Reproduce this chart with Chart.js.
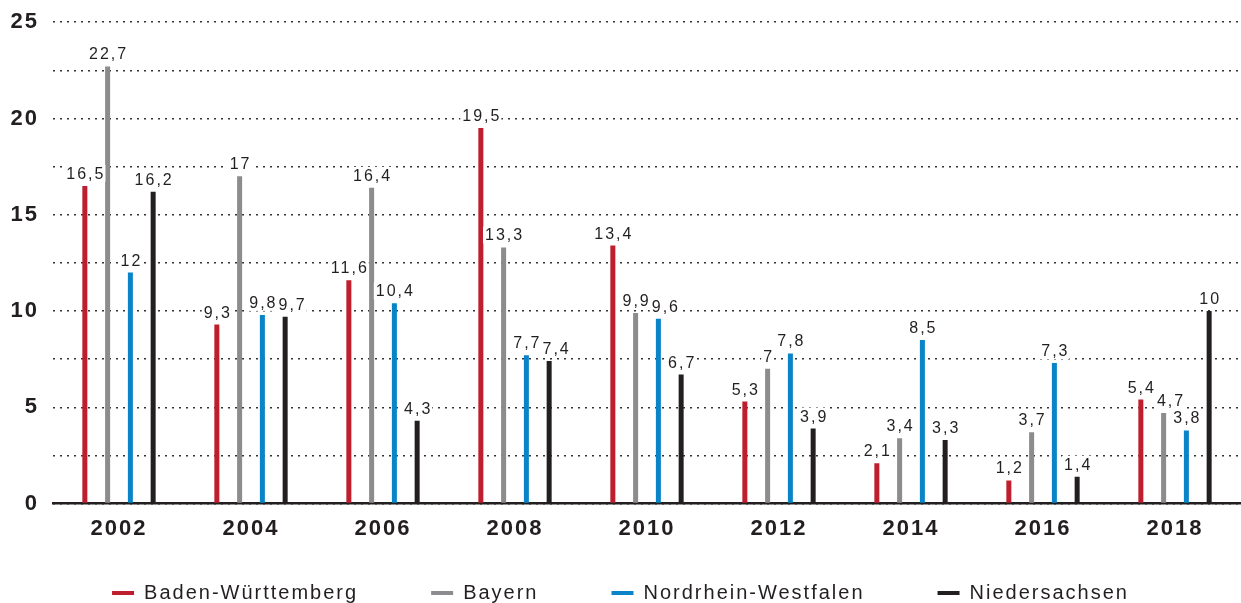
<!DOCTYPE html>
<html><head><meta charset="utf-8">
<script src="https://cdn.jsdelivr.net/npm/chart.js@4"></script>
<style>html,body{margin:0;padding:0;background:#fff}#wrap{width:1241px;height:603px}</style>
</head><body><div id="wrap"><canvas id="c" width="1241" height="603"></canvas></div>
<script>
const years = ['2002','2004','2006','2008','2010','2012','2014','2016','2018'];
const seriesNames = ['Baden-Württemberg','Bayern','Nordrhein-Westfalen','Niedersachsen'];
const badenWuerttemberg = [16.5, 9.3, 11.6, 19.5, 13.4, 5.3, 2.1, 1.2, 5.4];
const bayern = [22.7, 17, 16.4, 13.3, 9.9, 7, 3.4, 3.7, 4.7];
const nordrheinWestfalen = [12, 9.8, 10.4, 7.7, 9.6, 7.8, 8.5, 7.3, 3.8];
const niedersachsen = [16.2, 9.7, 4.3, 7.4, 6.7, 3.9, 3.3, 1.4, 10];
const yTicks = [0, 5, 10, 15, 20, 25];
const colors = ['#be1e2d', '#8c8c8f', '#0a84c8', '#231f20'];

const FONT = "'Liberation Sans', Arial, sans-serif";
const allSeries = [badenWuerttemberg, bayern, nordrheinWestfalen, niedersachsen];

function setSpacing(chart) { try { chart.ctx.letterSpacing = '2px'; } catch (e) {} }

const spacing = {
  id: 'spacing',
  beforeLayout: setSpacing,
  beforeUpdate: setSpacing,
  beforeDraw: setSpacing
};

const valueLabels = {
  id: 'valueLabels',
  afterDatasetsDraw(chart) {
    const ctx = chart.ctx;
    ctx.save();
    ctx.font = '16px ' + FONT;
    try { ctx.letterSpacing = '2px'; } catch (e) {}
    ctx.textAlign = 'left';
    ctx.textBaseline = 'alphabetic';
    const n = chart.data.labels.length;
    for (let i = 0; i < n; i++) {
      const placed = [];
      chart.data.datasets.forEach((ds, di) => {
        const bar = chart.getDatasetMeta(di).data[i];
        const txt = String(ds.data[i]).replace('.', ',');
        const w = ctx.measureText(txt).width - 2;
        const y = bar.y - 7;
        let left = bar.x - w / 2;
        const top = y - 13, bottom = y + 2;
        placed.forEach(p => {
          if (left < p.right + 1 && left + w > p.left && top < p.bottom && bottom > p.top) {
            left = p.right + 3;
          }
        });
        placed.push({ left, right: left + w, top, bottom });
        ctx.fillStyle = '#fff';
        ctx.fillRect(left - 2, top - 1, w + 4, bottom - top + 2);
        ctx.fillStyle = '#231f20';
        ctx.fillText(txt, left, y);
      });
    }
    ctx.restore();
  }
};

const legendFix = {
  id: 'legendFix',
  beforeInit(chart) {
    const lg = chart.legend;
    const orig = lg.fit;
    lg.fit = function () { orig.call(this); this.height = 45; };
  },
  afterLayout(chart) {
    const lg = chart.legend;
    lg.top = 583 - 73;
    lg.bottom = 603;
    lg.height = lg.bottom - lg.top;
  }
};

new Chart(document.getElementById('c'), {
  type: 'bar',
  data: {
    labels: years,
    datasets: allSeries.map((d, i) => ({
      label: seriesNames[i],
      data: d,
      backgroundColor: colors[i],
      borderWidth: 0,
      categoryPercentage: 0.69,
      barPercentage: 0.22
    }))
  },
  options: {
    responsive: false,
    animation: false,
    devicePixelRatio: 1,
    layout: { padding: { top: 0, left: 0, right: 0, bottom: 4 } },
    plugins: {
      tooltip: { enabled: false },
      legend: {
        position: 'bottom',
        labels: {
          boxWidth: 22, boxHeight: 4, padding: 73,
          color: '#231f20',
          font: { family: FONT, size: 20 },
          generateLabels(chart) {
            return chart.data.datasets.map((ds, i) => ({
              text: ds.label, fillStyle: colors[i], strokeStyle: colors[i],
              lineWidth: 0, hidden: false, datasetIndex: i, fontColor: '#231f20'
            }));
          }
        }
      }
    },
    scales: {
      x: {
        grid: { display: false, drawTicks: false },
        border: { display: true, color: '#231f20', width: 2.5 },
        ticks: { color: '#231f20', font: { family: FONT, size: 22, weight: 'bold' }, padding: 12 }
      },
      y: {
        min: 0, max: 25,
        afterFit(s) { s.width = 53; },
        grid: { color: '#333', lineWidth: 1.6, drawTicks: true, tickLength: 5, tickColor: 'rgba(0,0,0,0)' },
        border: { display: false, dash: [2, 5] },
        ticks: {
          stepSize: 2.5, autoSkip: false, padding: 9,
          color: '#231f20', font: { family: FONT, size: 22, weight: 'bold' },
          callback: v => (yTicks.includes(v) ? String(v) : '')
        }
      }
    }
  },
  plugins: [spacing, valueLabels, legendFix]
});
</script></body></html>
